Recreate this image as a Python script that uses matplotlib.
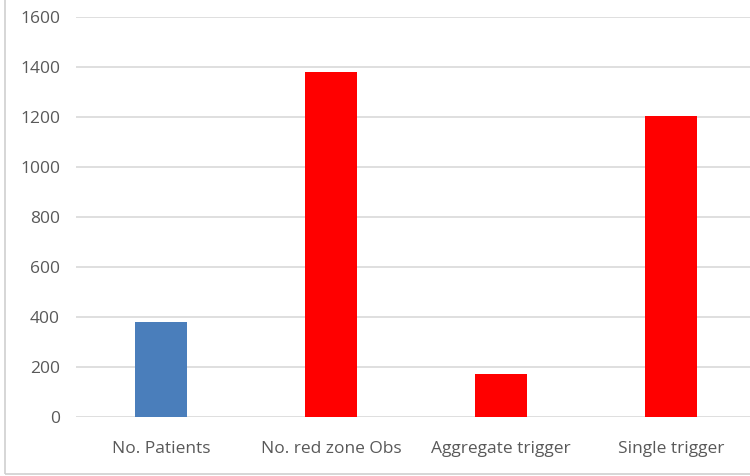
import matplotlib
matplotlib.use("Agg")
import matplotlib.pyplot as plt
from matplotlib.patches import Rectangle

categories = ["No. Patients", "No. red zone Obs", "Aggregate trigger", "Single trigger"]
values = [380, 1380, 174, 1206]
bar_colors = ["#4A7EBB", "#FF0000", "#FF0000", "#FF0000"]
y_ticks = [0, 200, 400, 600, 800, 1000, 1200, 1400, 1600]

plt.rcParams["font.family"] = ["Open Sans", "DejaVu Sans"]

fig = plt.figure(figsize=(7.5, 4.76), dpi=100)
W, H = 750, 476

# chart-area frame (left and bottom edges visible)
fig.patches.append(Rectangle((4.5 / W, (H - 474) / H), 1.2, 1.2,
                             transform=fig.transFigure, fill=False,
                             edgecolor="#D0D0D0", linewidth=1.2))

ax = fig.add_axes([76 / W, (H - 417.3) / H, 680 / W, 400 / H])
x = range(len(categories))
ax.bar(x, values, width=0.31, color=bar_colors, zorder=3)

ax.set_xlim(-0.5, 3.5)
ax.set_ylim(0, 1600)
ax.set_yticks(y_ticks)
ax.set_xticks(list(x))
ax.set_xticklabels(categories)
ax.grid(axis="y", color="#D9D9D9", linewidth=1.2, zorder=0)
ax.grid(axis="x", visible=False)
for s in ax.spines.values():
    s.set_visible(False)
ax.tick_params(axis="both", length=0, colors="#595959", labelsize=12.5)
ax.tick_params(axis="y", pad=11.5)
ax.tick_params(axis="x", pad=17)
ax.set_facecolor("none")

fig.savefig("out.png", dpi=100)
